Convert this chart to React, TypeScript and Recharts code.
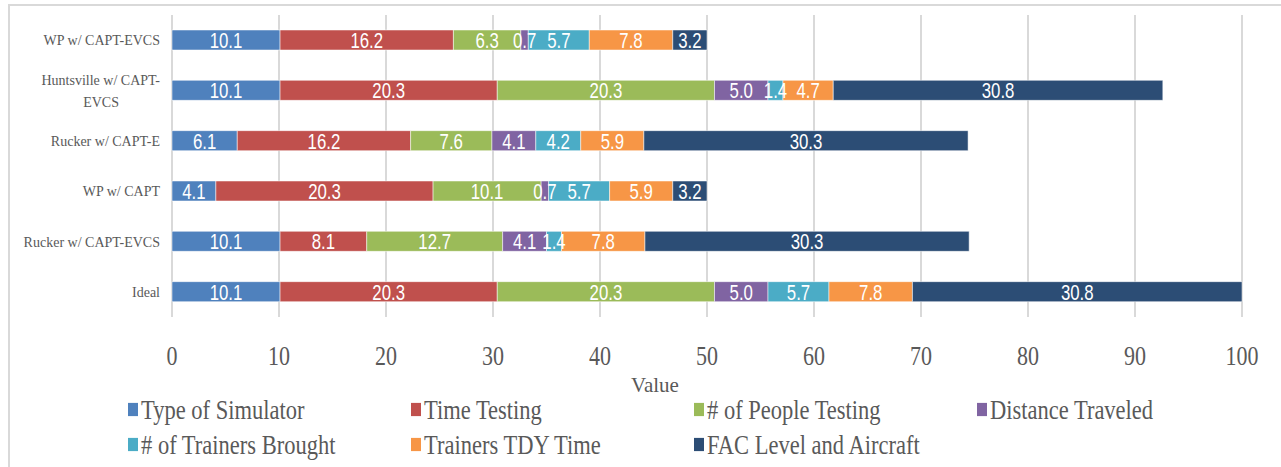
import { BarChart, Bar, XAxis, YAxis, CartesianGrid, LabelList, Label } from 'recharts';

const categories = ['WP w/ CAPT-EVCS', 'Huntsville w/ CAPT-EVCS', 'Rucker w/ CAPT-E', 'WP w/ CAPT', 'Rucker w/ CAPT-EVCS', 'Ideal'];

const typeOfSimulator = [10.1, 10.1, 6.1, 4.1, 10.1, 10.1];
const timeTesting = [16.2, 20.3, 16.2, 20.3, 8.1, 20.3];
const peopleTesting = [6.3, 20.3, 7.6, 10.1, 12.7, 20.3];
const distanceTraveled = [0.7, 5.0, 4.1, 0.7, 4.1, 5.0];
const trainersBrought = [5.7, 1.4, 4.2, 5.7, 1.4, 5.7];
const trainersTdy = [7.8, 4.7, 5.9, 5.9, 7.8, 7.8];
const facLevel = [3.2, 30.8, 30.3, 3.2, 30.3, 30.8];

const xTicks = [0, 10, 20, 30, 40, 50, 60, 70, 80, 90, 100];

const series = [
  { key: 'sim', name: 'Type of Simulator', values: typeOfSimulator, color: '#4f81bd' },
  { key: 'time', name: 'Time Testing', values: timeTesting, color: '#c0504d' },
  { key: 'people', name: '# of People Testing', values: peopleTesting, color: '#9bbb59' },
  { key: 'dist', name: 'Distance Traveled', values: distanceTraveled, color: '#8064a2' },
  { key: 'trainers', name: '# of Trainers Brought', values: trainersBrought, color: '#4bacc6' },
  { key: 'tdy', name: 'Trainers TDY Time', values: trainersTdy, color: '#f79646' },
  { key: 'fac', name: 'FAC Level and Aircraft', values: facLevel, color: '#2c4d75' },
];

const data = categories.map((name, i) => {
  const row: Record<string, any> = { name };
  series.forEach(s => { row[s.key] = s.values[i]; });
  return row;
});

const textGray = '#595959';
const serif = "'Liberation Serif', 'Times New Roman', serif";
const sans = "'Liberation Sans', Arial, sans-serif";

// long names break after the last hyphen, like Excel does
function wrapLabel(label: string) {
  if (label.length <= 20) return [label];
  const cut = label.lastIndexOf('-') + 1;
  return [label.slice(0, cut), label.slice(cut)];
}

function CategoryTick({ x, y, payload }: any) {
  const lines = wrapLabel(payload.value);
  const right = x - 4;
  if (lines.length === 1) {
    return (
      <text x={right} y={y} dy={5} textAnchor="end" fontSize={14} fill={textGray} fontFamily={serif}>
        {lines[0]}
      </text>
    );
  }
  const mid = right - lines[0].length * 3.1;
  return (
    <g fontSize={14} fill={textGray} fontFamily={serif}>
      <text x={right} y={y - 11} dy={5} textAnchor="end">{lines[0]}</text>
      <text x={mid} y={y + 11} dy={5} textAnchor="middle">{lines[1]}</text>
    </g>
  );
}

function ValueTick({ x, y, payload }: any) {
  return (
    <text
      transform={`translate(${x},${y + 40}) scale(1,1.25)`}
      textAnchor="middle"
      fontSize={22}
      fill={textGray}
      fontFamily={serif}
    >
      {payload.value}
    </text>
  );
}

// condensed white value in the middle of each segment
function SegmentLabel({ x, y, width, height, value }: any) {
  const cx = Number(x) + Number(width) / 2;
  const cy = Number(y) + Number(height) / 2;
  return (
    <text
      transform={`translate(${cx},${cy + 8}) scale(0.84,1.12)`}
      textAnchor="middle"
      fontSize={20}
      fill="#ffffff"
      fontFamily={sans}
    >
      {Number(value).toFixed(1)}
    </text>
  );
}

export default function App() {
  return (
    <div style={{ position: 'absolute', left: 0, top: 0, width: 1281, height: 467, overflow: 'hidden', background: '#fff' }}>
      <div style={{ position: 'absolute', left: 8, top: 4, width: 1400, height: 600, border: '2px solid #d9d9d9' }} />
      <div style={{ position: 'absolute', left: 0, top: 0 }}>
        <BarChart
          width={1281}
          height={467}
          data={data}
          layout="vertical"
          barSize={20}
          margin={{ top: 15, right: 39, left: 12, bottom: 75 }}
        >
          <CartesianGrid horizontal={false} stroke="#d9d9d9" strokeWidth={2} />
          <XAxis
            type="number"
            domain={[0, 100]}
            ticks={xTicks}
            tick={<ValueTick />}
            tickLine={false}
            axisLine={false}
            height={75}
            interval={0}
          >
            <Label value="Value" position="insideBottom" dx={-52} offset={0} fontSize={21} fill={textGray} fontFamily={serif} />
          </XAxis>
          <YAxis
            type="category"
            dataKey="name"
            width={160}
            tick={<CategoryTick />}
            tickLine={false}
            axisLine={false}
            interval={0}
          />
          {series.map(s => (
            <Bar
              key={s.key}
              dataKey={s.key}
              name={s.name}
              stackId="a"
              fill={s.color}
              stroke="#ffffff"
              strokeOpacity={0.5}
              strokeWidth={1}
              isAnimationActive={false}
            >
              <LabelList dataKey={s.key} content={<SegmentLabel />} />
            </Bar>
          ))}
        </BarChart>
      </div>
      <div
        style={{
          position: 'absolute',
          left: 128,
          top: 395,
          display: 'grid',
          gridTemplateColumns: 'repeat(4, 283px)',
          rowGap: 6,
          fontFamily: serif,
          fontSize: 22.5,
          color: textGray,
        }}
      >
        {series.map(s => (
          <div key={s.key} style={{ display: 'flex', alignItems: 'center', height: 29, transform: 'scaleY(1.2)', transformOrigin: 'left center' }}>
            <span style={{ display: 'inline-block', width: 10, height: 11, background: s.color, marginRight: 3 }} />
            <span>{s.name}</span>
          </div>
        ))}
      </div>
    </div>
  );
}
